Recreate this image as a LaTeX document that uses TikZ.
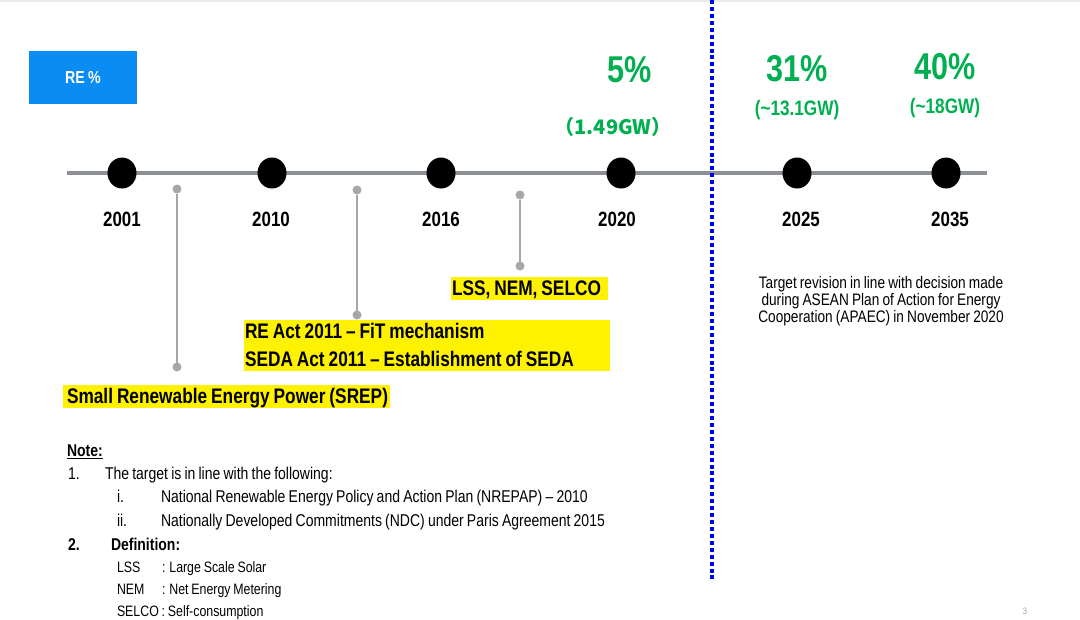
\documentclass[tikz,border=0pt]{standalone}
\usepackage{fontspec}
\setmainfont{Liberation Sans}[FakeStretch=0.82, WordSpace=0.82]
\newfontfamily\cjkfont{Noto Sans CJK SC}
\usetikzlibrary{shapes.geometric}
\definecolor{reblue}{RGB}{10,140,245}
\definecolor{regreen}{RGB}{0,176,80}
\definecolor{axisgray}{RGB}{140,143,148}
\definecolor{stemgray}{RGB}{165,167,170}
\definecolor{splitblue}{RGB}{0,0,240}
\newcommand{\hlstrut}{\rule[-3.75pt]{0pt}{17.25pt}}
\newcommand{\hlline}[2]{\makebox[#1][l]{\hlstrut #2}}

\begin{document}
\begin{tikzpicture}[x=0.75pt,y=-0.75pt,
    every node/.style={inner sep=0pt, outer sep=0pt},
    rebox/.style={fill=reblue, text=white, font=\fontsize{13}{15}\selectfont\bfseries, minimum width=81pt, minimum height=39.75pt},
    event/.style={ellipse, fill=black, minimum width=21.75pt, minimum height=23.25pt},
    year/.style={anchor=base, font=\fontsize{15.5}{18}\selectfont\bfseries},
    share/.style={anchor=base, text=regreen, font=\fontsize{28}{32}\selectfont\bfseries},
    capacity/.style={anchor=base, text=regreen, font=\fontsize{15.7}{18}\selectfont\bfseries},
    pindot/.style={circle, fill=stemgray, minimum size=6.75pt},
    stem/.style={stemgray, line width=1.1pt},
    axis/.style={axisgray, line width=3pt},
    policy/.style={anchor=north west, fill=yellow, font=\fontsize{15.8}{21}\selectfont\bfseries, align=left, inner xsep=0.75pt},
    note/.style={anchor=base west, font=\fontsize{12.8}{14}\selectfont},
    defn/.style={anchor=base west, font=\fontsize{11.3}{12}\selectfont}
  ]
  \useasboundingbox (0,0) rectangle (1080,619);
  \draw[black!8, line width=1.5pt] (0,1) -- (1080,1);

  % header box
  \node[rebox] (re) at (83,77.5) {RE \%};

  % timeline
  \coordinate (tlstart) at (67,173);
  \coordinate (tlend) at (987,173);
  \draw[axis] (tlstart) -- (tlend);
  \foreach \x/\lx/\yr in {122/122/2001, 272/271/2010, 441/441/2016, 621/617/2020, 797/801/2025, 946/950/2035} {
    \node[event] (ev\yr) at (\x,173) {};
    \node[year] (yr\yr) at (\lx,226) {\yr};
  }

  % targets
  \node[share] (s2020) at (630,82) {5\%};
  \node[capacity, font=\cjkfont\fontsize{15}{17}\selectfont\bfseries] (c2020) at (613,134) {（1.49GW）};
  \node[share] (s2025) at (797,81) {31\%};
  \node[capacity] (c2025) at (797,115) {(\textasciitilde13.1GW)};
  \node[share] (s2035) at (945,79) {40\%};
  \node[capacity] (c2035) at (945,113) {(\textasciitilde18GW)};

  % split between achieved and planned
  \coordinate (splittop) at (712,0);
  \coordinate (splitbot) at (712,582);
  \draw[splitblue, line width=3pt, dash pattern=on 3pt off 2.2pt] (splittop) -- (splitbot);

  % policy pins
  \foreach \n/\x/\ya/\yb in {srep/177/189/367, act/357/190/315, lss/520/195/266} {
    \node[pindot] (\n top) at (\x,\ya) {};
    \node[pindot] (\n bot) at (\x,\yb) {};
    \draw[stem] (\n top) -- (\n bot);
  }
  \node[policy] (lss) at (451,277) {\hlline{116.25pt}{LSS, NEM, SELCO}};
  \node[policy] (act) at (244,320) {\hlline{273pt}{RE Act 2011 -- FiT mechanism}\\\hlline{273pt}{SEDA Act 2011 -- Establishment of SEDA}};
  \node[policy, inner xsep=3pt] (srep) at (63,385) {\hlline{239.25pt}{Small Renewable Energy Power (SREP)}};

  \node[anchor=north, align=center, font=\fontsize{12.5}{12.75}\selectfont] (revision) at (881,276.5)
    {Target revision in line with decision made\\during ASEAN Plan of Action for Energy\\Cooperation (APAEC) in November 2020};

  % notes
  \node[note, font=\fontsize{12.8}{14}\selectfont\bfseries] (notehead) at (67,456) {\underline{Note:}};
  \node[note] (n1) at (68,479) {1.};
  \node[note] (n1t) at (105,479) {The target is in line with the following:};
  \node[note] (n1i) at (117,502) {i.};
  \node[note] (n1it) at (161,502) {National Renewable Energy Policy and Action Plan (NREPAP) -- 2010};
  \node[note] (n1ii) at (117,526) {ii.};
  \node[note] (n1iit) at (161,526) {Nationally Developed Commitments (NDC) under Paris Agreement 2015};
  \node[note, font=\fontsize{12.8}{14}\selectfont\bfseries] (n2) at (68,550) {2.};
  \node[note, font=\fontsize{12.8}{14}\selectfont\bfseries] (n2t) at (111,550) {Definition:};
  \node[defn] (dlss) at (117,572) {LSS};
  \node[defn] (dlsst) at (162,572) {: Large Scale Solar};
  \node[defn] (dnem) at (117,594) {NEM};
  \node[defn] (dnemt) at (162,594) {: Net Energy Metering};
  \node[defn] (dselco) at (117,616) {SELCO : Self-consumption};

  \node[anchor=base, text=black!35, font=\fontsize{7}{8}\selectfont] (page) at (1025,614) {3};
\end{tikzpicture}
\end{document}
